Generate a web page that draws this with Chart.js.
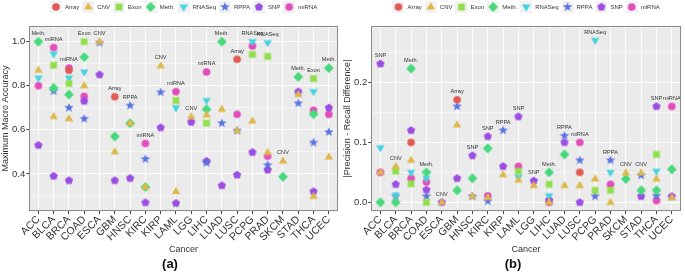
<!DOCTYPE html>
<html>
<head>
<meta charset="utf-8">
<script src="https://cdn.jsdelivr.net/npm/chart.js@4.4.1/dist/chart.umd.min.js"></script>
<style>
  body { margin: 0; background: #fff; }
  canvas { position: absolute; top: 0; }
</style>
</head>
<body>
<canvas id="chartA" width="342" height="272" style="left:0"></canvas>
<canvas id="chartB" width="343" height="272" style="left:342px"></canvas>
<script>
// categories
var cancers = ['ACC', 'BLCA', 'BRCA', 'COAD', 'ESCA', 'GBM', 'HNSC', 'KIRC', 'KIRP', 'LAML',
               'LGG', 'LIHC', 'LUAD', 'LUSC', 'PCPG', 'PRAD', 'SKCM', 'STAD', 'THCA', 'UCEC'];
var dataTypes = ['Array', 'CNV', 'Exon', 'Meth.', 'RNASeq', 'RPPA', 'SNP', 'miRNA'];
var n = null;

// (a) maximum macro accuracy, one array per data type
var accArray  = [n, n, 0.87, n, n, 0.75, n, n, n, n, n, n, n, 0.92, n, n, n, n, n, n];
var accCNV    = [0.87, 0.66, 0.65, 0.80, 1.00, 0.50, 0.63, 0.34, 0.89, 0.32, 0.66, 0.667, 0.693, 0.596, 0.64, 0.497, 0.458, 0.76, 0.298, 0.476];
var accExon   = [n, 0.893, 0.81, 1.00, n, n, n, n, n, 0.733, n, 0.63, n, n, 0.942, 0.933, n, n, 0.832, n];
var accMeth   = [1.00, 0.79, 0.76, 0.93, n, 0.57, 0.63, 0.34, n, n, n, 0.693, 1.00, n, n, n, 0.387, 0.84, 0.671, 0.88];
var accRNASeq = [0.835, 0.944, 0.835, 0.862, n, n, n, n, n, 0.70, n, 0.733, n, n, 1.00, 0.995, n, n, 0.773, n];
var accRPPA   = [n, 0.775, 0.70, 0.65, 0.995, n, 0.71, 0.467, 0.77, n, n, 0.45, 0.63, 0.596, n, 0.44, n, 0.72, 0.542, 0.59];
var accSNP    = [0.53, 0.39, 0.37, 0.73, 0.85, 0.37, 0.38, 0.27, 0.61, 0.267, 0.635, 0.458, 0.347, 0.395, 0.498, 0.418, n, 0.773, 0.32, 0.70];
var accMiRNA  = [0.80, 0.973, 0.88, 0.752, n, n, n, 0.538, n, 0.773, n, 0.862, n, 0.67, 0.98, 0.48, n, n, 0.689, 0.67];
var bestA = ['Meth.', 'miRNA', 'miRNA', 'Exon', 'CNV', 'Array', 'RPPA', 'miRNA', 'CNV', 'miRNA',
             'CNV', 'miRNA', 'Meth.', 'Array', 'RNASeq', 'RNASeq', 'CNV', 'Meth.', 'Exon', 'Meth.'];

// (b) |precision - recall difference|
var prdArray  = [n, n, 0.10, n, n, 0.171, n, n, n, n, n, n, n, 0.05, n, n, n, n, n, n];
var prdCNV    = [0.05, 0.06, 0.07, n, 0.0, 0.129, 0.01, 0.008, 0.046, 0.037, 0.028, 0.0, 0.028, 0.028, 0.039, 0.0, 0.049, 0.049, 0.039, 0.008];
var prdExon   = [n, 0.052, 0.031, 0.0, n, n, n, n, n, 0.052, n, 0.03, n, n, 0.02, 0.02, n, n, 0.08, n];
var prdMeth   = [0.0, 0.0, 0.223, 0.05, n, 0.02, 0.04, 0.09, n, n, n, 0.05, 0.08, n, n, n, 0.039, 0.02, 0.02, 0.055];
var prdRNASeq = [0.091, 0.012, 0.05, 0.04, n, n, n, n, n, 0.042, n, 0.011, n, n, 0.27, 0.05, n, n, 0.052, n];
var prdRPPA   = [n, 0.01, n, 0.01, n, 0.16, 0.01, 0.002, 0.12, n, n, n, 0.111, 0.07, 0.01, 0.07, n, 0.045, 0.011, n];
var prdSNP    = [0.231, 0.03, 0.12, 0.021, 0.0, 0.04, 0.078, 0.11, 0.06, 0.143, 0.036, 0.004, 0.10, 0.0, n, n, n, 0.01, 0.16, 0.01];
var prdMiRNA  = [0.05, n, 0.04, 0.034, n, n, n, 0.011, n, 0.06, n, 0.0, n, 0.10, n, 0.03, n, n, 0.003, 0.16];
var bestB = ['SNP', 'CNV', 'Meth.', 'Meth.', 'CNV', 'Array', 'SNP', 'SNP', 'RPPA', 'SNP',
             'SNP', 'Meth.', 'RPPA', 'miRNA', 'RNASeq', 'RPPA', 'CNV', 'CNV', 'SNP', 'miRNA'];

// tick labels
var yMajorA = [0.4, 0.6, 0.8, 1.0];
var yMinorA = [0.3, 0.5, 0.7, 0.9];
var yMajorB = [0.0, 0.1, 0.2];
var yMinorB = [0.05, 0.15, 0.25];

var colors = ['#E25A55', '#DDB84A', '#92DF4E', '#47D97B', '#47D4E0', '#5A72E2', '#9C4DE2', '#E24DBB'];
var shapes = ['circle', 'triangle', 'square', 'diamond', 'down', 'star', 'pentagon', 'circle'];
var FONT = "'Liberation Sans', Arial, sans-serif";

// draw one marker shape on a 2d context
function drawMarker(g, shape, cx, cy, color) {
  g.fillStyle = color;
  g.beginPath();
  var i, a, r;
  if (shape === 'circle') {
    g.arc(cx, cy, 3.8, 0, Math.PI * 2);
  } else if (shape === 'triangle' || shape === 'down') {
    r = 4.8;
    var dir = shape === 'down' ? 1 : -1;
    for (i = 0; i < 3; i++) {
      a = Math.PI / 2 * dir + i * 2 * Math.PI / 3;
      g.lineTo(cx + r * Math.cos(a), cy + r * Math.sin(a));
    }
  } else if (shape === 'square') {
    g.rect(cx - 3.4, cy - 3.4, 6.8, 6.8);
  } else if (shape === 'diamond') {
    r = 4.9;
    g.moveTo(cx, cy - r); g.lineTo(cx + r, cy); g.lineTo(cx, cy + r); g.lineTo(cx - r, cy);
  } else if (shape === 'star') {
    for (i = 0; i < 10; i++) {
      r = i % 2 ? 2.1 : 5.0;
      a = -Math.PI / 2 + i * Math.PI / 5;
      g.lineTo(cx + r * Math.cos(a), cy + r * Math.sin(a));
    }
  } else if (shape === 'pentagon') {
    for (i = 0; i < 5; i++) {
      a = -Math.PI / 2 + i * 2 * Math.PI / 5;
      g.lineTo(cx + 4.3 * Math.cos(a), cy + 4.3 * Math.sin(a));
    }
  }
  g.closePath();
  g.fill();
}

function markerImage(i) {
  var c = document.createElement('canvas');
  c.width = 12; c.height = 12;
  drawMarker(c.getContext('2d'), shapes[i], 6, 6, colors[i]);
  return c;
}

function legendImage(i) {
  var c = document.createElement('canvas');
  c.width = 12; c.height = 12;
  var g = c.getContext('2d');
  g.fillStyle = '#F2F2F2';
  g.fillRect(0, 0, 12, 12);
  drawMarker(g, shapes[i], 6, 6, colors[i]);
  return c;
}

var markers = dataTypes.map(function (t, i) { return markerImage(i); });
var legendIcons = dataTypes.map(function (t, i) { return legendImage(i); });

var panelBg = {
  id: 'panelBg',
  beforeInit: function (chart) {
    // leave a gap between legend and panel
    var lg = chart.legend;
    if (lg) {
      var fit = lg.fit;
      lg.fit = function () { fit.call(this); this.height += chart.options.plugins.panelBg.gap; };
    }
  },
  afterLayout: function (chart) {
    // centre the legend over the panel, not the canvas
    if (chart.legend) {
      chart.legend.left = chart.chartArea.left;
      chart.legend.right = chart.chartArea.right;
    }
  },
  beforeDraw: function (chart) {
    var a = chart.chartArea, ctx = chart.ctx;
    ctx.save();
    ctx.fillStyle = '#EBEBEB';
    ctx.fillRect(a.left, a.top, a.right - a.left, a.bottom - a.top);
    ctx.restore();
  },
  afterDraw: function (chart) {
    var a = chart.chartArea, ctx = chart.ctx;
    ctx.save();
    ctx.strokeStyle = '#8a8a8a';
    ctx.lineWidth = 1;
    ctx.strokeRect(Math.round(a.left) + 0.5, Math.round(a.top) + 0.5,
                   Math.round(a.right - a.left) - 1, Math.round(a.bottom - a.top) - 1);
    ctx.restore();
  }
};

// text label above the best data type of each cancer
var bestLabels = {
  id: 'bestLabels',
  afterDatasetsDraw: function (chart, args, opts) {
    var ctx = chart.ctx;
    ctx.save();
    ctx.font = '5.6px ' + FONT;
    ctx.fillStyle = '#333';
    ctx.textAlign = 'center';
    ctx.textBaseline = 'bottom';
    opts.best.forEach(function (t, i) {
      var meta = chart.getDatasetMeta(dataTypes.indexOf(t));
      var p = meta.data[i];
      if (p && !p.skip) ctx.fillText(t, p.x, p.y - 5.5);
    });
    ctx.restore();
  }
};

function makeChart(id, series, best, yMin, yMax, yMajor, yMinor, yTitle, panel, padRight) {
  return new Chart(document.getElementById(id), {
    type: 'scatter',
    data: {
      datasets: dataTypes.map(function (t, k) {
        return {
          label: t,
          data: series[k].map(function (v, i) { return { x: i, y: v }; }),
          pointStyle: markers[k],
          pointRadius: 4,
          backgroundColor: colors[k],
          borderColor: colors[k],
          borderWidth: 0
        };
      })
    },
    options: {
      responsive: false,
      animation: false,
      layout: { padding: { left: 0, right: padRight, top: 1, bottom: 1 } },
      scales: {
        x: {
          type: 'linear',
          min: -0.6,
          max: cancers.length - 0.4,
          afterBuildTicks: function (s) {
            s.ticks = cancers.map(function (c, i) { return { value: i }; });
          },
          ticks: {
            autoSkip: false, minRotation: 45, maxRotation: 45, padding: 0,
            color: '#333', font: { family: FONT, size: 10.5, lineHeight: 1 },
            callback: function (v) { return cancers[v]; }
          },
          grid: { color: '#fff', lineWidth: 1, tickColor: '#444', tickLength: 3 },
          border: { display: false },
          title: { display: true, text: 'Cancer', color: '#333', font: { family: FONT, size: 9, lineHeight: 1 }, padding: { top: 2, bottom: 0 } }
        },
        y: {
          type: 'linear',
          min: yMin,
          max: yMax,
          afterBuildTicks: function (s) {
            s.ticks = yMinor.map(function (v) { return { value: v, minor: true }; })
              .concat(yMajor.map(function (v) { return { value: v }; }))
              .sort(function (p, q) { return p.value - q.value; });
          },
          ticks: {
            padding: 1, color: '#333', font: { family: FONT, size: 9.5 },
            callback: function (v, i, t) { return t[i].minor ? '' : v.toFixed(1); }
          },
          grid: {
            color: '#fff',
            lineWidth: function (c) { return c.tick && c.tick.minor ? 0.5 : 1; },
            tickColor: function (c) { return c.tick && c.tick.minor ? 'rgba(0,0,0,0)' : '#444'; },
            tickLength: 3
          },
          border: { display: false },
          title: { display: true, text: yTitle, color: '#333', font: { family: FONT, size: 9, lineHeight: 1 }, padding: { top: 1, bottom: 1 } }
        }
      },
      plugins: {
        tooltip: { enabled: false },
        legend: {
          position: 'top',
          labels: {
            usePointStyle: true,
            pointStyleWidth: 12,
            padding: 3,
            color: '#333',
            font: { family: FONT, size: 6 },
            generateLabels: function () {
              return dataTypes.map(function (t, k) {
                return { text: t, pointStyle: legendIcons[k], fillStyle: colors[k], strokeStyle: colors[k],
                         lineWidth: 0, hidden: false, datasetIndex: k, fontColor: '#333' };
              });
            }
          }
        },
        title: {
          display: true, text: panel, position: 'bottom', color: '#111',
          font: { family: FONT, size: 13, weight: 'bold', lineHeight: 1 }, padding: { top: 4, bottom: 0 }
        },
        panelBg: { gap: 6 },
        bestLabels: { best: best }
      }
    },
    plugins: [panelBg, bestLabels]
  });
}

makeChart('chartA', [accArray, accCNV, accExon, accMeth, accRNASeq, accRPPA, accSNP, accMiRNA], bestA,
          0.231, 1.071, yMajorA, yMinorA, 'Maximum Macro Accuracy', '(a)', 2);
makeChart('chartB', [prdArray, prdCNV, prdExon, prdMeth, prdRNASeq, prdRPPA, prdSNP, prdMiRNA], bestB,
          -0.0146, 0.294, yMajorB, yMinorB, '|Precision - Recall Difference|', '(b)', 1);
</script>
</body>
</html>
